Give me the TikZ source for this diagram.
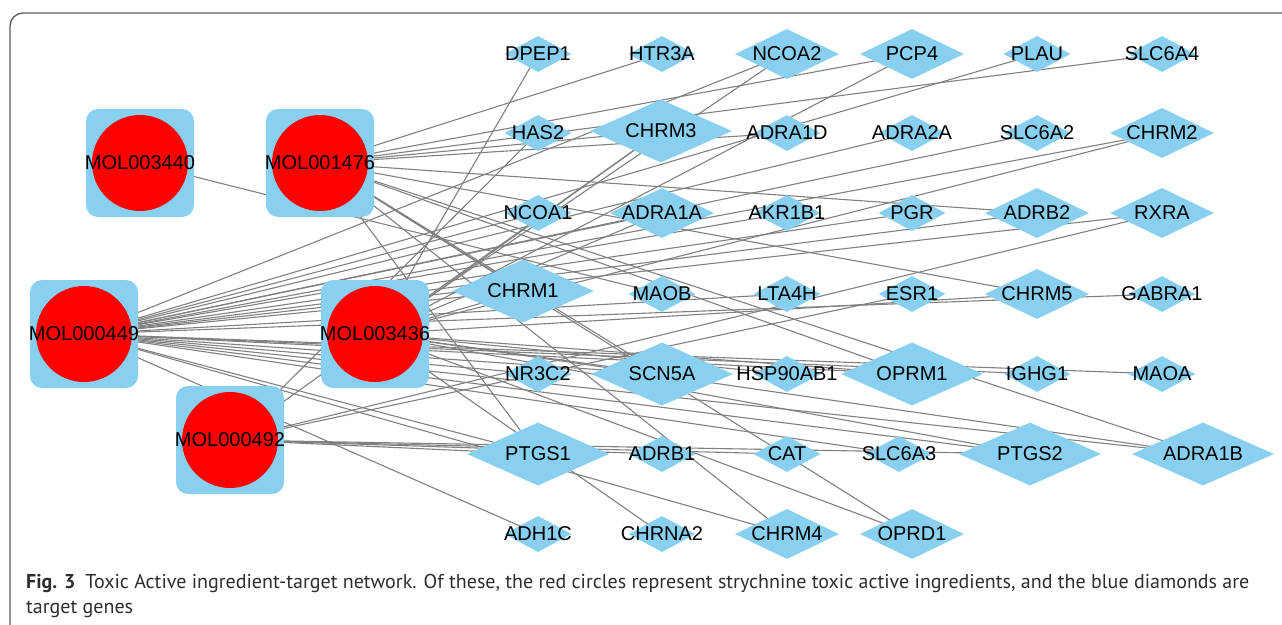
\documentclass[tikz,border=0pt]{standalone}
\usepackage{fontspec}
\setmainfont{Liberation Sans}
\newfontfamily\capfont{PT Sans}
\usetikzlibrary{shapes.geometric,backgrounds}
\definecolor{molblue}{RGB}{137,207,240}
\definecolor{molred}{RGB}{255,0,0}
\definecolor{edgegray}{RGB}{128,128,128}
\definecolor{framegray}{RGB}{90,90,90}
\definecolor{captext}{RGB}{45,45,45}
\begin{document}
\begin{tikzpicture}[x=1pt,y=-1pt,
  mol/.style={rectangle, rounded corners=12pt, fill=molblue, minimum width=108pt, minimum height=108pt, inner sep=0pt,
    path picture={\fill[molred] (path picture bounding box.center) circle (48pt);}},
  gs/.style={diamond, fill=molblue, minimum width=67pt, minimum height=36pt, inner sep=0pt},
  gm/.style={diamond, fill=molblue, minimum width=104pt, minimum height=50pt, inner sep=0pt},
  gl/.style={diamond, fill=molblue, minimum width=142pt, minimum height=63pt, inner sep=0pt},
  every label/.style={font=\fontsize{20}{24}\selectfont, text=black, inner sep=0pt},
  edge/.style={draw=edgegray, line width=1.1pt},
  captxt/.style={anchor=base west, inner sep=0pt, text=captext, font=\capfont\fontsize{20}{24}\selectfont}]
\useasboundingbox (0,0) rectangle (1282,624);
% frame
\draw[framegray, line width=1.3pt, rounded corners=13pt] (10,630) -- (10,13) -- (1290,13);
% molecules
\node[mol, label=center:MOL003440] (m3440) at (140,163) {};
\node[mol, label=center:MOL001476] (m1476) at (320,163) {};
\node[mol, label=center:MOL000449] (m0449) at (84,334) {};
\node[mol, label=center:MOL003436] (m3436) at (375,334) {};
\node[mol, label=center:MOL000492] (m0492) at (230,440) {};
% row 1
\node[gs, label=center:DPEP1] (dpep1) at (538,54) {};
\node[gs, label=center:HTR3A] (htr3a) at (662,54) {};
\node[gm, label=center:NCOA2] (ncoa2) at (787,54) {};
\node[gm, label=center:PCP4] (pcp4) at (912,54) {};
\node[gs, label=center:PLAU] (plau) at (1037,54) {};
\node[gs, label=center:SLC6A4] (slc6a4) at (1162,54) {};
% row 2
\node[gs, label=center:HAS2] (has2) at (538,133) {};
\node[gl, label=center:CHRM3] (chrm3) at (661,131) {};
\node[gs, label=center:ADRA1D] (adra1d) at (787,133) {};
\node[gs, label=center:ADRA2A] (adra2a) at (912,133) {};
\node[gs, label=center:SLC6A2] (slc6a2) at (1037,133) {};
\node[gm, label=center:CHRM2] (chrm2) at (1162,133) {};
% row 3
\node[gs, label=center:NCOA1] (ncoa1) at (538,213) {};
\node[gm, label=center:ADRA1A] (adra1a) at (662,213) {};
\node[gs, label=center:AKR1B1] (akr1b1) at (787,213) {};
\node[gs, label=center:PGR] (pgr) at (912,213) {};
\node[gm, label=center:ADRB2] (adrb2) at (1037,213) {};
\node[gm, label=center:RXRA] (rxra) at (1162,213) {};
% row 4
\node[gl, label=center:CHRM1] (chrm1) at (523,291) {};
\node[gs, label=center:MAOB] (maob) at (662,294) {};
\node[gs, label=center:LTA4H] (lta4h) at (787,294) {};
\node[gs, label=center:ESR1] (esr1) at (912,294) {};
\node[gm, label=center:CHRM5] (chrm5) at (1037,294) {};
\node[gs, label=center:GABRA1] (gabra1) at (1162,294) {};
% row 5
\node[gs, label=center:NR3C2] (nr3c2) at (538,374) {};
\node[gl, label=center:SCN5A] (scn5a) at (662,374) {};
\node[gs, label=center:HSP90AB1] (hsp90ab1) at (787,374) {};
\node[gl, label=center:OPRM1] (oprm1) at (912,374) {};
\node[gs, label=center:IGHG1] (ighg1) at (1037,374) {};
\node[gs, label=center:MAOA] (maoa) at (1162,374) {};
% row 6
\node[gl, label=center:PTGS1] (ptgs1) at (538,454) {};
\node[gs, label=center:ADRB1] (adrb1) at (662,454) {};
\node[gs, label=center:CAT] (cat) at (787,454) {};
\node[gs, label=center:SLC6A3] (slc6a3) at (899,454) {};
\node[gl, label=center:PTGS2] (ptgs2) at (1030,454) {};
\node[gl, label=center:ADRA1B] (adra1b) at (1203,454) {};
% row 7
\node[gs, label=center:ADH1C] (adh1c) at (538,534) {};
\node[gs, label=center:CHRNA2] (chrna2) at (662,534) {};
\node[gm, label=center:CHRM4] (chrm4) at (787,534) {};
\node[gm, label=center:OPRD1] (oprd1) at (912,534) {};
% edges
\begin{pgfonlayer}{background}
\draw[edge] (m3440.center) -- (maob.center);
\foreach \g in {htr3a,slc6a4,adra1d,pcp4,adrb2,chrm5,chrm4,oprd1,chrm3,chrm1,scn5a,oprm1,adra1b,ptgs1}
  \draw[edge] (m1476.center) -- (\g.center);
\foreach \g in {plau,adra2a,slc6a2,ncoa1,akr1b1,pgr,lta4h,gabra1,nr3c2,ighg1,maoa,slc6a3,adh1c,ncoa2,chrm2,adra1a,adrb2,rxra,chrm4,chrm1,scn5a,oprm1,ptgs1,ptgs2,adra1b}
  \draw[edge] (m0449.center) -- (\g.center);
\foreach \g in {dpep1,hsp90ab1,chrna2,ncoa2,pcp4,chrm2,adra1a,chrm5,oprd1,chrm3,chrm1,scn5a,oprm1,ptgs2,adra1b}
  \draw[edge] (m3436.center) -- (\g.center);
\foreach \g in {has2,adrb1,cat,rxra,chrm3,ptgs1,ptgs2,esr1}
  \draw[edge] (m0492.center) -- (\g.center);
\end{pgfonlayer}
% caption
\node[captxt] (cap1) at (26,588) {\textbf{Fig. 3}\hspace{10pt}Toxic Active ingredient-target network. Of these, the red circles represent strychnine toxic active ingredients, and the blue diamonds are};
\node[captxt] (cap2) at (26,613) {target genes};
\end{tikzpicture}
\end{document}
